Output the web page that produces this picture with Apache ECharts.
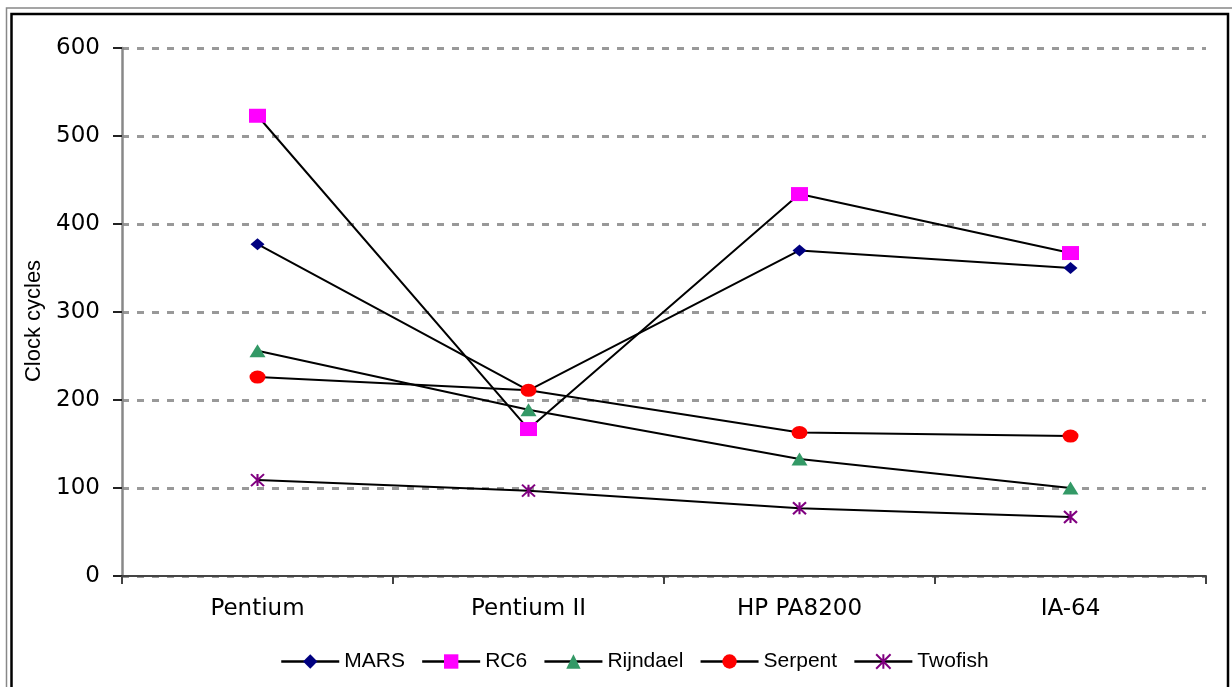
<!DOCTYPE html>
<html>
<head>
<meta charset="utf-8">
<script src="https://cdn.jsdelivr.net/npm/echarts@6/dist/echarts.min.js"></script>
<style>
html,body{margin:0;padding:0;background:#fff;}
#chart{width:1232px;height:687px;}
</style>
</head>
<body>
<div id="chart"></div>
<script>
const categories = ['Pentium', 'Pentium II', 'HP PA8200', 'IA-64'];
const yTicks = [0, 100, 200, 300, 400, 500, 600];
const mars = [377, 211, 370, 350];
const rc6 = [523, 167, 434, 367];
const rijndael = [256, 189, 133, 100];
const serpent = [226, 211, 163, 159];
const twofish = [109, 97, 77, 67];

const chart = echarts.init(document.getElementById('chart'), null, {renderer: 'canvas'});

const lineStyle = {color: '#000', width: 2};
function mk(name, data, symbol, size, color, extraItem) {
  return {
    name: name,
    type: 'line',
    data: data,
    symbol: symbol,
    symbolSize: size,
    showAllSymbol: true,
    lineStyle: lineStyle,
    itemStyle: Object.assign({color: color}, extraItem || {}),
    emphasis: {disabled: true},
    animation: false
  };
}

const option = {
  animation: false,
  backgroundColor: '#fff',
  grid: {left: 122, right: 26, top: 48, bottom: 111, containLabel: false},
  legend: {
    left: 275,
    top: 646,
    itemWidth: 58,
    itemHeight: 18,
    itemGap: 16,
    lineStyle: {color: '#000', width: 2.5},
    textStyle: {fontFamily: 'Liberation Sans, Arial, sans-serif', fontSize: 21, color: '#000'},
    data: ['MARS', 'RC6', 'Rijndael', 'Serpent', 'Twofish']
  },
  xAxis: {
    type: 'category',
    data: categories,
    boundaryGap: true,
    axisLine: {lineStyle: {color: '#444', width: 2}},
    axisTick: {show: true, length: 8, lineStyle: {color: '#444', width: 2}},
    axisLabel: {margin: 22, fontFamily: 'DejaVu Sans', fontSize: 23, color: '#000'},
    splitLine: {show: false}
  },
  yAxis: {
    type: 'value',
    min: yTicks[0],
    max: yTicks[yTicks.length - 1],
    interval: 100,
    name: 'Clock cycles',
    nameLocation: 'middle',
    nameGap: 76,
    nameRotate: 90,
    nameTextStyle: {fontFamily: 'Liberation Sans, Arial, sans-serif', fontSize: 22, color: '#000', padding: [0, 18, 0, 0]},
    axisLine: {show: true, lineStyle: {color: '#888', width: 2.5}},
    axisTick: {show: true, length: 9, lineStyle: {color: '#222', width: 2}},
    axisLabel: {margin: 22, fontFamily: 'DejaVu Sans', fontSize: 23, color: '#000'},
    splitLine: {show: true, lineStyle: {color: '#999', width: 3, type: [7, 8]}}
  },
  graphic: [
    {type: 'rect', shape: {x: 6.5, y: 8, width: 1240, height: 720}, style: {fill: null, stroke: '#888', lineWidth: 1.5}, silent: true, z: 100},
    {type: 'rect', shape: {x: 11.5, y: 14, width: 1216.5, height: 720}, style: {fill: null, stroke: '#000', lineWidth: 2.5}, silent: true, z: 100}
  ],
  series: [
    mk('MARS', mars, 'diamond', [14, 12], '#000080'),
    mk('RC6', rc6, 'rect', [17, 14], '#ff00ff'),
    mk('Rijndael', rijndael, 'triangle', [16, 13], '#339966'),
    mk('Serpent', serpent, 'circle', [16, 13], '#ff0000'),
    mk('Twofish', twofish, 'path://M0,0L10,10M10,0L0,10M5,0L5,10', [13, 12], '#800080', {borderColor: '#800080', borderWidth: 2})
  ]
};
chart.setOption(option);
</script>
</body>
</html>
